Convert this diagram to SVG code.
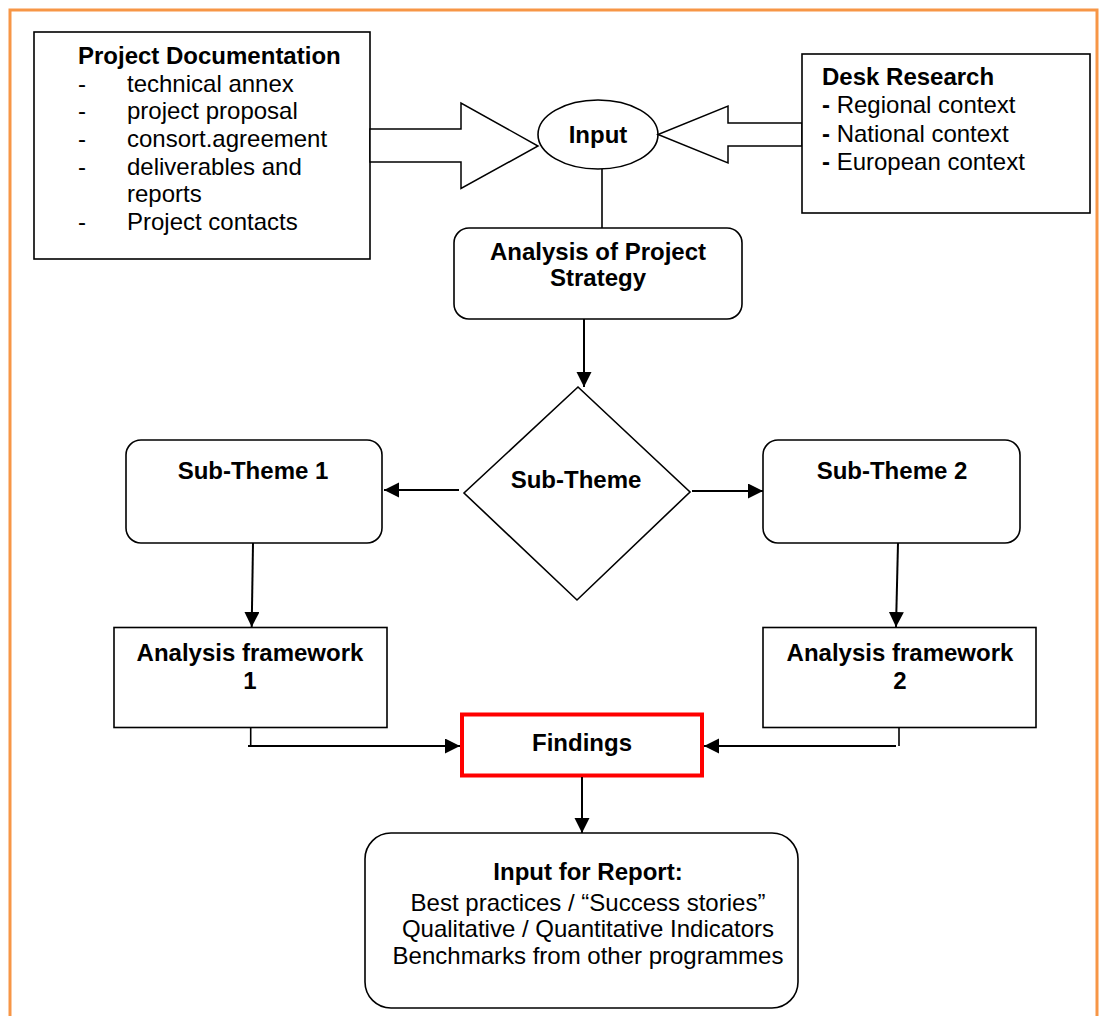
<svg xmlns="http://www.w3.org/2000/svg" width="1100" height="1016" viewBox="0 0 1100 1016">
<defs>
<style>
.box{fill:#fff;stroke:#000;stroke-width:1.6}
.blk{fill:#fff;stroke:#000;stroke-width:1.5;stroke-linejoin:miter}
.con{fill:none;stroke:#000;stroke-width:2}
.t{font-family:"Liberation Sans",Arial,sans-serif;font-size:24px;fill:#000}
.b{font-weight:bold}
.c{text-anchor:middle}
</style>
<marker id="ah" markerUnits="userSpaceOnUse" markerWidth="16" markerHeight="16" refX="15" refY="7.5" orient="auto">
<path d="M0,0 L15,7.5 L0,15 z" fill="#000"/>
</marker>
</defs>
<rect width="1100" height="1016" fill="#fff"/>
<path d="M10,1020 L10,10 L1097,10 L1097,1020" fill="none" stroke="#F79646" stroke-width="3"/>

<g id="project-documentation">
<rect class="box" x="34" y="32" width="336" height="227"/>
<text class="t b" x="78" y="64">Project Documentation</text>
<text class="t" x="78" y="92">-</text><text class="t" x="127" y="92">technical annex</text>
<text class="t" x="78" y="119">-</text><text class="t" x="127" y="119">project proposal</text>
<text class="t" x="78" y="147">-</text><text class="t" x="127" y="147">consort.agreement</text>
<text class="t" x="78" y="175">-</text><text class="t" x="127" y="175">deliverables and</text>
<text class="t" x="127" y="202">reports</text>
<text class="t" x="78" y="230">-</text><text class="t" x="127" y="230">Project contacts</text>
</g>

<g id="arrow-left-block">
<polygon class="blk" points="370,129 461,129 461,103 538,146 461,188.5 461,162 370,162"/>
</g>

<g id="input">
<ellipse class="box" cx="598" cy="134.5" rx="60" ry="34.5"/>
<text class="t b c" x="598" y="143">Input</text>
</g>

<g id="arrow-right-block">
<polygon class="blk" points="802,123 728,123 728,106 658,134.5 728,163 728,146 802,146"/>
</g>

<g id="desk-research">
<rect class="box" x="802" y="54" width="288" height="159"/>
<text class="t b" x="822" y="85">Desk Research</text>
<text class="t" x="822" y="113"><tspan font-weight="bold">-</tspan> Regional context</text>
<text class="t" x="822" y="142"><tspan font-weight="bold">-</tspan> National context</text>
<text class="t" x="822" y="170"><tspan font-weight="bold">-</tspan> European context</text>
</g>

<g id="analysis-strategy">
<rect class="box" x="454" y="228" width="288" height="91" rx="15"/>
<text class="t b c" x="598" y="260">Analysis of Project</text>
<text class="t b c" x="598" y="286">Strategy</text>
</g>

<g id="sub-theme">
<polygon class="box" points="578,387 690,492 577,600 464,493"/>
<text class="t b c" x="576" y="488">Sub-Theme</text>
</g>

<g id="sub-theme-1">
<rect class="box" x="126" y="440" width="256" height="103" rx="15"/>
<text class="t b c" x="253" y="479">Sub-Theme 1</text>
</g>

<g id="sub-theme-2">
<rect class="box" x="763" y="440" width="257" height="103" rx="15"/>
<text class="t b c" x="892" y="479">Sub-Theme 2</text>
</g>

<g id="analysis-framework-1">
<rect class="box" x="114" y="627.5" width="273" height="100"/>
<text class="t b c" x="250" y="661">Analysis framework</text>
<text class="t b c" x="250" y="689">1</text>
</g>

<g id="analysis-framework-2">
<rect class="box" x="763" y="627.5" width="273" height="100"/>
<text class="t b c" x="900" y="661">Analysis framework</text>
<text class="t b c" x="900" y="689">2</text>
</g>

<g id="findings">
<rect x="462" y="714.5" width="240" height="61" fill="#fff" stroke="#FF0000" stroke-width="4"/>
<text class="t b c" x="582" y="751" font-size="26">Findings</text>
</g>

<g id="input-for-report">
<rect class="box" x="365" y="833" width="433" height="175" rx="26"/>
<text class="t b c" x="588" y="880">Input for Report:</text>
<text class="t c" x="588" y="911">Best practices / “Success stories”</text>
<text class="t c" x="588" y="937">Qualitative / Quantitative Indicators</text>
<text class="t c" x="588" y="964">Benchmarks from other programmes</text>
</g>

<g id="connectors">
<line x1="602" y1="169" x2="602" y2="228" stroke="#000" stroke-width="1.6"/>
<line class="con" x1="584" y1="319" x2="584" y2="387" marker-end="url(#ah)"/>
<line class="con" x1="459" y1="490" x2="384" y2="490" marker-end="url(#ah)"/>
<line class="con" x1="692" y1="491" x2="763" y2="491" marker-end="url(#ah)"/>
<line class="con" x1="253" y1="543" x2="251.7" y2="627" marker-end="url(#ah)"/>
<line class="con" x1="898" y1="543" x2="896" y2="627" marker-end="url(#ah)"/>
<line x1="250.7" y1="728" x2="250.7" y2="746" stroke="#000" stroke-width="1.6"/>
<line class="con" x1="248" y1="746" x2="460" y2="746" marker-end="url(#ah)"/>
<line x1="899" y1="728" x2="899" y2="746" stroke="#000" stroke-width="1.6"/>
<line class="con" x1="896" y1="746" x2="704" y2="746" marker-end="url(#ah)"/>
<line class="con" x1="582" y1="777" x2="582" y2="833" marker-end="url(#ah)"/>
</g>
</svg>
